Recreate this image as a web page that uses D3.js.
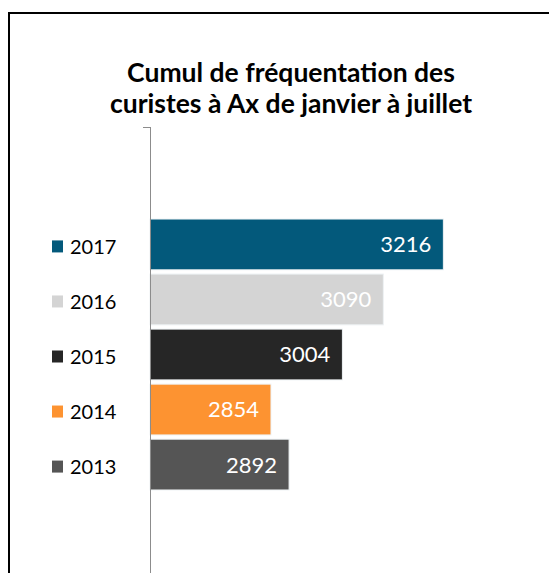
<!DOCTYPE html>
<html>
<head>
<meta charset="utf-8">
<script src="https://cdn.jsdelivr.net/npm/d3@7"></script>
<style>
  body { margin: 0; background: #fff; }
  svg { display: block; }
</style>
</head>
<body>
<script>
var SVG_WIDTH = 549;
var SVG_HEIGHT = 573;

// chart data
var years = ["2017", "2016", "2015", "2014", "2013"];
var visits = [3216, 3090, 3004, 2854, 2892];
var bar_colors = ["#03597b", "#d4d4d4", "#262626", "#fd9331", "#555555"];
var title_lines = ["Cumul de fréquentation des", "curistes à Ax de janvier à juillet"];

var font = "Lato, 'Open Sans', sans-serif";

var svg = d3.select("body").append("svg")
            .attr("width", SVG_WIDTH)
            .attr("height", SVG_HEIGHT);

// background + frame (only top and left edges visible)
svg.append("rect")
    .attr("width", SVG_WIDTH)
    .attr("height", SVG_HEIGHT)
    .style("fill", "#fff");

svg.append("path")
    .attr("d", "M9,580 L9,13 L560,13")
    .style("fill", "none")
    .style("stroke", "#000")
    .style("stroke-width", 2);

// title
svg.append("g").selectAll("text")
    .data(title_lines).enter()
  .append("text")
    .attr("x", 291)
    .attr("y", function (d, i) { return 82 + i * 31; })
    .attr("text-anchor", "middle")
    .style("font-family", font)
    .style("font-weight", "bold")
    .style("font-size", "26.5px")
    .style("fill", "#000")
    .text(function (d) { return d; });

// scales
var x = d3.scaleLinear().domain([2600, 3400]).range([150, 531]);
var y = d3.scaleBand().domain(years).range([216.9, 492.1])
          .paddingInner(0.077).paddingOuter(0.0385);

var rows = years.map(function (yr, i) {
  return { year: yr, value: visits[i], color: bar_colors[i] };
});

// bars
svg.append("g").selectAll("rect")
    .data(rows).enter()
  .append("rect")
    .attr("x", x(2600))
    .attr("y", function (d) { return y(d.year); })
    .attr("width", function (d) { return x(d.value) - x(2600); })
    .attr("height", y.bandwidth())
    .style("fill", function (d) { return d.color; })
    .style("stroke", "#eef2f4")
    .style("stroke-width", 1);

// value labels
svg.append("g").selectAll("text")
    .data(rows).enter()
  .append("text")
    .attr("x", function (d) { return x(d.value) - 12; })
    .attr("y", function (d) { return y(d.year) + y.bandwidth() / 2; })
    .attr("dy", "0.36em")
    .attr("text-anchor", "end")
    .style("font-family", font)
    .style("font-size", "22px")
    .style("fill", "#fff")
    .text(function (d) { return d.value; });

// vertical category axis
var axis_g = svg.append("g");
axis_g.append("line")
    .attr("x1", 150.5).attr("x2", 150.5)
    .attr("y1", 127).attr("y2", SVG_HEIGHT)
    .style("stroke", "#8c8c8c")
    .style("stroke-width", 1);
axis_g.append("line")
    .attr("x1", 143).attr("x2", 150.5)
    .attr("y1", 127.5).attr("y2", 127.5)
    .style("stroke", "#8c8c8c")
    .style("stroke-width", 1);

// legend
var legend = svg.append("g").selectAll("g")
    .data(rows).enter()
  .append("g")
    .attr("transform", function (d) {
      return "translate(0," + (y(d.year) + y.bandwidth() / 2 + 2) + ")";
    });

legend.append("rect")
    .attr("x", 52)
    .attr("y", -6)
    .attr("width", 11)
    .attr("height", 12)
    .style("fill", function (d) { return d.color; });

legend.append("text")
    .attr("x", 70)
    .attr("dy", "0.36em")
    .style("font-family", font)
    .style("font-size", "20px")
    .style("fill", "#000")
    .text(function (d) { return d.year; });
</script>
</body>
</html>
